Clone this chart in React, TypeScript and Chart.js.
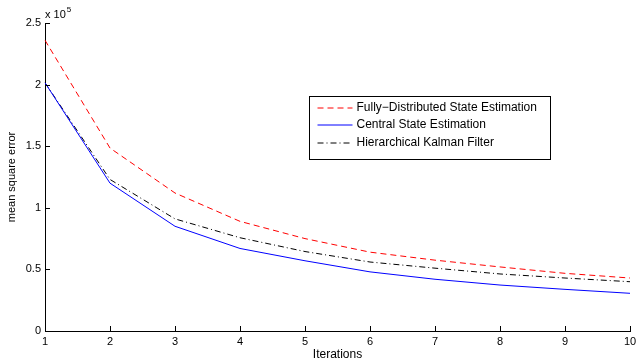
import React, { useEffect, useRef } from "react";
import { Chart, registerables } from "chart.js";

Chart.register(...registerables);

const iterations = ["1", "2", "3", "4", "5", "6", "7", "8", "9", "10"];
const fullyDistributed = [236000, 148500, 112000, 89000, 75000, 64000, 57500, 52000, 46800, 43000];
const centralState = [201500, 120000, 85000, 67000, 57000, 48000, 42000, 37300, 33800, 30600];
const hierarchicalKF = [201500, 123000, 91000, 75700, 64500, 56000, 51000, 46300, 43000, 40000];
const yTicks = [0, 50000, 100000, 150000, 200000, 250000];

const FONT = "'Liberation Sans', Arial, Helvetica, sans-serif";

const inwardTicks = {
  id: "inwardTicks",
  afterDraw(chart: any) {
    const ctx = chart.ctx;
    const area = chart.chartArea;
    const xs = chart.scales.x;
    const ys = chart.scales.y;
    ctx.save();
    ctx.strokeStyle = "#000";
    ctx.lineWidth = 1;
    ctx.beginPath();
    xs.ticks.forEach((_t: any, i: number) => {
      const px = Math.round(xs.getPixelForTick(i)) + 0.5;
      ctx.moveTo(px, area.bottom);
      ctx.lineTo(px, area.bottom - 5);
    });
    ys.ticks.forEach((t: any) => {
      const py = Math.round(ys.getPixelForValue(t.value)) + 0.5;
      ctx.moveTo(area.left, py);
      ctx.lineTo(area.left + 5, py);
    });
    ctx.stroke();
    // exponent label
    ctx.fillStyle = "#000";
    ctx.font = `11px ${FONT}`;
    ctx.textBaseline = "alphabetic";
    ctx.textAlign = "left";
    const base = "x 10";
    ctx.fillText(base, area.left, area.top - 5);
    const w = ctx.measureText(base).width;
    ctx.font = `8px ${FONT}`;
    ctx.fillText("5", area.left + w + 1, area.top - 11);
    ctx.restore();
  },
};

const boxLegend = {
  id: "boxLegend",
  afterDraw(chart: any) {
    const ctx = chart.ctx;
    const left = 309.5;
    const top = 96.5;
    const width = 241;
    const height = 63;
    ctx.save();
    ctx.fillStyle = "#fff";
    ctx.fillRect(left, top, width, height);
    ctx.strokeStyle = "#000";
    ctx.lineWidth = 1;
    ctx.setLineDash([]);
    ctx.strokeRect(left, top, width, height);
    ctx.font = `12px ${FONT}`;
    ctx.textBaseline = "middle";
    ctx.textAlign = "left";
    chart.data.datasets.forEach((ds: any, i: number) => {
      const y = Math.round(top + 11 + i * 17.5);
      ctx.strokeStyle = ds.borderColor;
      ctx.lineWidth = ds.borderWidth;
      ctx.setLineDash(ds.borderDash || []);
      ctx.beginPath();
      ctx.moveTo(left + 8, y);
      ctx.lineTo(left + 43, y);
      ctx.stroke();
      ctx.setLineDash([]);
      ctx.fillStyle = "#000";
      ctx.fillText(ds.label, left + 47, y);
    });
    ctx.restore();
  },
};

export default function App() {
  const ref = useRef<HTMLCanvasElement | null>(null);

  useEffect(() => {
    document.body.style.margin = "0";
    if (!ref.current) return;
    const chart = new Chart(ref.current, {
      type: "line",
      data: {
        labels: iterations,
        datasets: [
          {
            label: "Fully\u2212Distributed State Estimation",
            data: fullyDistributed,
            borderColor: "#ff0000",
            borderWidth: 1,
            borderDash: [6, 4],
            pointRadius: 0,
            fill: false,
            tension: 0,
          },
          {
            label: "Central State Estimation",
            data: centralState,
            borderColor: "#0000ff",
            borderWidth: 1,
            pointRadius: 0,
            fill: false,
            tension: 0,
          },
          {
            label: "Hierarchical Kalman Filter",
            data: hierarchicalKF,
            borderColor: "#000000",
            borderWidth: 1,
            borderDash: [6, 3, 1, 3],
            pointRadius: 0,
            fill: false,
            tension: 0,
          },
        ],
      },
      options: {
        responsive: false,
        animation: false,
        devicePixelRatio: 1,
        layout: { padding: { left: 0, right: 11, top: 23, bottom: 0 } },
        plugins: {
          legend: { display: false },
          tooltip: { enabled: false },
        },
        scales: {
          x: {
            type: "category",
            offset: false,
            grid: { display: true, drawOnChartArea: false, drawTicks: false },
            border: { display: true, color: "#000", width: 1 },
            ticks: {
              color: "#000",
              font: { family: FONT, size: 11 },
              padding: 4,
              maxRotation: 0,
              autoSkip: false,
            },
            title: {
              display: true,
              text: "Iterations",
              color: "#000",
              font: { family: FONT, size: 12 },
              padding: { top: 0, bottom: 0 },
            },
            afterFit: (s: any) => {
              s.height = 31;
            },
          },
          y: {
            min: 0,
            max: 250000,
            afterBuildTicks: (s: any) => {
              s.ticks = yTicks.map((v) => ({ value: v }));
            },
            grid: { display: true, drawOnChartArea: false, drawTicks: false },
            border: { display: true, color: "#000", width: 1 },
            ticks: {
              color: "#000",
              font: { family: FONT, size: 11 },
              padding: 4,
              callback: (v: any) => String(Number(v) / 100000),
            },
            title: {
              display: true,
              text: "mean square error",
              color: "#000",
              font: { family: FONT, size: 11 },
              padding: { top: 5, bottom: 4 },
            },
            afterFit: (s: any) => {
              s.width = 45;
            },
          },
        },
      },
      plugins: [inwardTicks, boxLegend],
    });
    return () => chart.destroy();
  }, []);

  return (
    <div style={{ width: 641, height: 362, background: "#fff" }}>
      <canvas ref={ref} width={641} height={362} />
    </div>
  );
}
